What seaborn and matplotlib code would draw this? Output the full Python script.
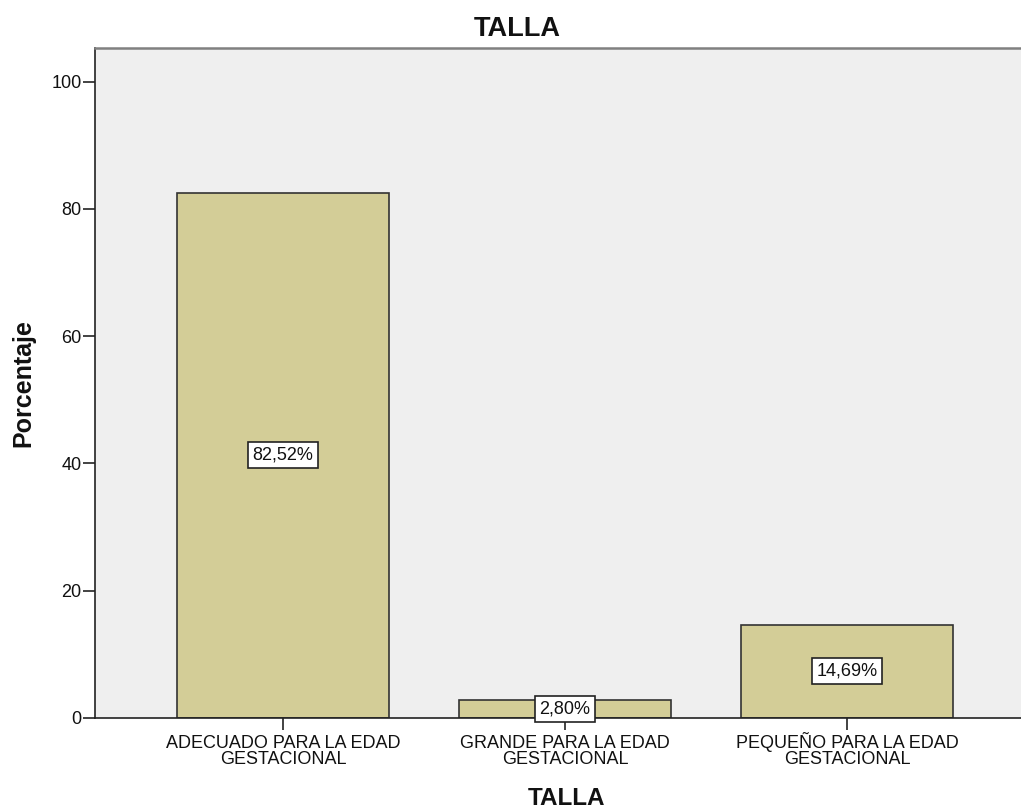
import matplotlib
matplotlib.use("Agg")
import matplotlib.pyplot as plt
import matplotlib.transforms as mtransforms
import seaborn as sns
import pandas as pd

categories = ["ADECUADO PARA LA EDAD\nGESTACIONAL", "GRANDE PARA LA EDAD\nGESTACIONAL", "PEQUEÑO PARA LA EDAD\nGESTACIONAL"]
values = [82.52, 2.80, 14.69]
labels = ["82,52%", "2,80%", "14,69%"]
yticks = [0, 20, 40, 60, 80, 100]

sns.set_style("white")
plt.rcParams['font.family'] = ['Liberation Sans', 'DejaVu Sans']
plt.rcParams['text.color'] = '#111111'
plt.rcParams['xtick.color'] = '#111111'
plt.rcParams['ytick.color'] = '#111111'

df = pd.DataFrame({"cat": categories, "val": values})

W, H = 1021, 810
fig = plt.figure(figsize=(W / 100, H / 100), dpi=100)
ax = fig.add_axes([95 / W, 1 - 718 / H, 1 - 95 / W, (718 - 48) / H])
ax.set_facecolor("#efefef")

sns.barplot(data=df, x="cat", y="val", ax=ax, color="#d3cd97", width=0.75,
            edgecolor="#333333", linewidth=1.2, saturation=1)

for i, (v, lab) in enumerate(zip(values, labels)):
    ax.text(i, v / 2, lab, ha="center", va="center", fontsize=13,
            bbox=dict(boxstyle="square,pad=0.25", facecolor="white", edgecolor="#222222", linewidth=1.2))

ax.set_xlim(-0.667, 2.617)
ax.set_ylim(0, 105.3)
ax.set_yticks(yticks)
ax.set_yticklabels([str(t) for t in yticks], fontsize=13)
ax.tick_params(axis="x", labelsize=13, direction="out", length=8.6, width=1.2, color="#222222", pad=4)
ax.tick_params(axis="y", direction="out", length=8.6, width=1.2, color="#222222", pad=1)
ax.tick_params(bottom=True, left=True)
for lab in ax.get_xticklabels():
    lab.set_linespacing(0.9)
    if "Ñ" in lab.get_text():
        lab.set_transform(lab.get_transform() + mtransforms.ScaledTranslation(0, 3 / 100, fig.dpi_scale_trans))

ax.spines["right"].set_visible(False)
ax.spines["top"].set_color("#808080")
ax.spines["top"].set_linewidth(1.8)
ax.spines["left"].set_color("#222222")
ax.spines["left"].set_linewidth(1.2)
ax.spines["bottom"].set_color("#222222")
ax.spines["bottom"].set_linewidth(1.2)

ax.set_xlabel("")
ax.set_ylabel("")
fig.text(517 / W, 1 - 36 / H, "TALLA", fontsize=19.5, fontweight="bold", ha="center", va="baseline")
fig.text(566 / W, 1 - 805 / H, "TALLA", fontsize=17.5, fontweight="bold", ha="center", va="baseline")
fig.text(23 / W, 1 - 383 / H, "Porcentaje", fontsize=18, fontweight="bold", ha="center", va="center", rotation=90)

fig.savefig("out.png", dpi=100)
